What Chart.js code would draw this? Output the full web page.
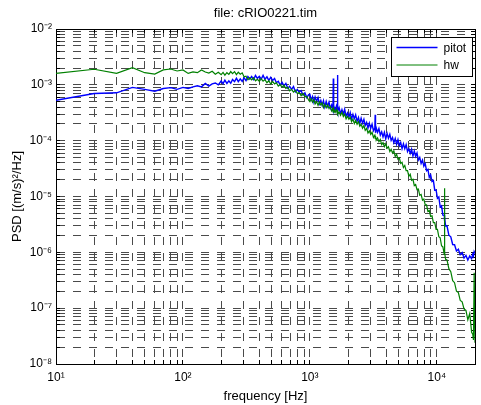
<!DOCTYPE html>
<html><head><meta charset="utf-8">
<script src="https://cdn.jsdelivr.net/npm/chart.js@4.4.1/dist/chart.umd.min.js"></script>
<style>html,body{margin:0;padding:0;background:#fff}canvas{display:block}</style>
</head><body>
<canvas id="c" width="481" height="405"></canvas>
<script>
const titleText = 'file: cRIO0221.tim';
const xTitle = 'frequency [Hz]';
const yTitle = 'PSD [(m/s)\u00B2/Hz]';
const seriesNames = ['pitot', 'hw'];
const seriesColors = ['#0000ff', '#008000'];
const xRange = [10, 20000];
const yRange = [1e-8, 1e-2];

const freq = [
10,20,30,40,50,60,70,80,90,100,
110,120,130,140,150,160,170,180,190,
200,207,214,222,230,238,246,255,264,273,
283,293,303,314,325,336,348,360,373,386,
400,414,428,443,459,475,492,509,527,545,
564,584,604,625,647,670,693,718,743,769,
796,824,853,883,914,946,979,
1000,1025,1050,1075,1100,1130,1160,1190,1220,1250,
1280,1310,1345,1380,1415,1450,1485,1520,1530,1540,
1580,1620,1640,1650,1660,1700,1745,1790,1835,1880,
1930,1980,2030,2080,2130,2185,2240,2295,2355,2415,
2475,2535,2600,2665,2730,2800,2870,2940,3015,3090,
3170,3250,3270,3290,3330,3415,3500,3590,3680,3770,
3865,3960,4060,4160,4265,4370,4480,4590,4705,4825,
4945,5070,5195,5325,5460,5595,5735,5880,6025,6175,
6330,6490,6650,6815,6985,7160,7340,7525,7715,7905,
8105,8305,8515,8725,8945,9170,9400,9635,9875,10120,
10375,10635,10900,11170,11450,11500,11550,11740,12030,
12450,12890,13340,13800,14290,14790,15300,15840,16390,16970,
17560,18180,18810,19200,19450,19700,20000
];

const pitot = [
5.3e-4,7.0e-4,7.2e-4,9.0e-4,8.3e-4,7.7e-4,8.6e-4,8.9e-4,8.3e-4,9.0e-4,
8.6e-4,9.2e-4,9.6e-4,9.2e-4,1.06e-3,9.5e-4,1.04e-3,1.08e-3,1.0e-3,
1.17e-3,1.05e-3,1.21e-3,1.06e-3,1.18e-3,1.07e-3,1.25e-3,1.14e-3,1.31e-3,1.14e-3,
1.28e-3,1.15e-3,1.34e-3,1.19e-3,1.40e-3,1.27e-3,1.41e-3,1.24e-3,1.47e-3,1.31e-3,
1.42e-3,1.27e-3,1.48e-3,1.26e-3,1.39e-3,1.20e-3,1.36e-3,1.20e-3,1.30e-3,1.09e-3,
1.16e-3,9.9e-4,1.11e-3,9.6e-4,1.06e-3,8.7e-4,9.4e-4,8.3e-4,9.3e-4,7.5e-4,
8.3e-4,7.4e-4,7.9e-4,6.6e-4,7.2e-4,5.9e-4,6.7e-4,
6.75e-4,5.36e-4,6.15e-4,4.89e-4,6.05e-4,5.04e-4,5.95e-4,4.54e-4,5.23e-4,4.28e-4,
5.18e-4,4.01e-4,5.04e-4,4.12e-4,4.88e-4,3.79e-4,4.35e-4,3.52e-4,1.3e-3,4.27e-4,
3.43e-4,4.19e-4,3.7e-4,1.5e-3,3.36e-4,3.92e-4,3.01e-4,3.61e-4,2.98e-4,3.65e-4,
2.74e-4,3.14e-4,2.65e-4,3.17e-4,2.43e-4,2.95e-4,2.48e-4,2.90e-4,2.22e-4,2.60e-4,
2.03e-4,2.53e-4,2.06e-4,2.42e-4,1.87e-4,2.12e-4,1.68e-4,2.06e-4,1.66e-4,1.97e-4,
1.51e-4,1.68e-4,2.9e-4,1.38e-4,1.71e-4,1.41e-4,1.65e-4,1.26e-4,1.44e-4,1.17e-4,
1.41e-4,1.08e-4,1.35e-4,1.11e-4,1.30e-4,1.01e-4,1.14e-4,9.2e-5,1.09e-4,8.6e-5,
1.05e-4,8.2e-5,9.3e-5,7.2e-5,8.8e-5,7.2e-5,8.5e-5,6.4e-5,7.2e-5,5.9e-5,
7.0e-5,5.3e-5,6.5e-5,5.2e-5,6.0e-5,4.5e-5,5.0e-5,3.9e-5,4.5e-5,3.5e-5,
3.9e-5,2.9e-5,3.06e-5,2.2e-5,2.45e-5,1.85e-5,1.93e-5,1.30e-5,1.31e-5,9.3e-6,
9.8e-6,6.5e-6,6.8e-6,4.65e-6,4.6e-6,3.6e-6,4.1e-6,2.96e-6,2.99e-6,
2.03e-6,1.90e-6,1.38e-6,1.37e-6,1.06e-6,1.14e-6,9.1e-7,9.9e-7,7.9e-7,8.8e-7,
7.3e-7,8.6e-7,7.7e-7,9.3e-7,8.6e-7,1.03e-6,9.6e-7
];

const hw = [
1.6e-3,1.9e-3,1.6e-3,2.03e-3,1.65e-3,1.56e-3,1.85e-3,1.92e-3,1.77e-3,1.85e-3,
1.6e-3,1.7e-3,1.65e-3,1.85e-3,1.7e-3,1.62e-3,1.75e-3,1.55e-3,1.68e-3,
1.52e-3,1.67e-3,1.49e-3,1.65e-3,1.54e-3,1.73e-3,1.59e-3,1.72e-3,1.52e-3,1.68e-3,
1.55e-3,1.64e-3,1.39e-3,1.43e-3,1.23e-3,1.34e-3,1.23e-3,1.34e-3,1.18e-3,1.26e-3,
1.16e-3,1.29e-3,1.16e-3,1.24e-3,1.09e-3,1.18e-3,1.03e-3,1.15e-3,1.04e-3,1.09e-3,
9.5e-4,1.01e-3,9.1e-4,9.8e-4,8.6e-4,9.1e-4,7.8e-4,8.3e-4,7.4e-4,8.0e-4,
7.0e-4,7.3e-4,6.4e-4,7.0e-4,6.1e-4,6.2e-4,5.3e-4,
4.99e-4,5.67e-4,4.88e-4,5.48e-4,4.54e-4,5.01e-4,4.29e-4,4.92e-4,4.37e-4,4.76e-4,
3.92e-4,4.48e-4,3.87e-4,4.39e-4,3.77e-4,4.09e-4,3.41e-4,3.79e-4,3.25e-4,3.76e-4,
3.20e-4,3.63e-4,3.13e-4,3.53e-4,2.98e-4,3.24e-4,2.84e-4,3.23e-4,2.70e-4,2.99e-4,
2.46e-4,2.74e-4,2.42e-4,2.64e-4,2.18e-4,2.43e-4,2.02e-4,2.30e-4,1.97e-4,2.19e-4,
1.82e-4,1.96e-4,1.67e-4,1.87e-4,1.53e-4,1.66e-4,1.37e-4,1.50e-4,1.29e-4,1.41e-4,
1.14e-4,1.26e-4,1.10e-4,1.22e-4,1.02e-4,1.12e-4,9.6e-5,1.05e-4,8.5e-5,9.2e-5,
7.8e-5,8.8e-5,7.3e-5,7.8e-5,6.4e-5,7.0e-5,6.0e-5,6.6e-5,5.2e-5,5.7e-5,
4.65e-5,4.9e-5,3.9e-5,4.1e-5,3.3e-5,3.6e-5,2.9e-5,2.9e-5,2.3e-5,2.5e-5,
1.96e-5,2.03e-5,1.57e-5,1.64e-5,1.33e-5,1.36e-5,1.05e-5,1.09e-5,8.6e-6,9.0e-6,
7.1e-6,7.1e-6,5.4e-6,5.6e-6,4.4e-6,4.5e-6,3.4e-6,3.4e-6,2.57e-6,2.58e-6,
1.9e-6,1.82e-6,1.31e-6,1.25e-6,9.2e-7,1.4e-5,9.8e-7,7.5e-7,7.3e-7,
5.1e-7,4.5e-7,3.1e-7,2.86e-7,2.02e-7,1.9e-7,1.38e-7,1.3e-7,9.7e-8,9.1e-8,
6.2e-8,8.0e-8,3.7e-8,3.4e-8,2.7e-8,4.3e-7,2.4e-8
];

const FONT = '"Liberation Sans", Arial, Helvetica, sans-serif';
Chart.defaults.font.family = FONT;
Chart.defaults.color = '#000';

const SUP = {'-':'\u207B','0':'\u2070','1':'\u00B9','2':'\u00B2','3':'\u00B3','4':'\u2074','5':'\u2075','6':'\u2076','7':'\u2077','8':'\u2078','9':'\u2079'};
function decadeLabel(v){
  const e = Math.log10(v), r = Math.round(e);
  if (Math.abs(e - r) > 1e-6) return '';
  return '10' + String(r).split('').map(c => SUP[c]).join('');
}
function logGrid(min, max){
  const t = [];
  for (let e = Math.floor(Math.log10(min)); e <= Math.ceil(Math.log10(max)); e++){
    for (let m = 1; m <= 9; m++){
      const v = parseFloat((m * Math.pow(10, e)).toPrecision(6));
      if (v >= min * 0.999999 && v <= max * 1.000001) t.push(v);
    }
  }
  return t;
}
function align(p){ return Math.round(p - 0.5) + 0.5; }

const gridStyle = { display: true, color: '#4a4a4a', lineWidth: 1, drawTicks: false };
const borderStyle = { display: true, color: '#000', width: 1, dash: [8, 8] };

const frame = {
  id: 'frame',
  beforeDatasetsDraw(chart){
    const {ctx, chartArea:{left, right, top, bottom}, scales:{x, y}} = chart;
    const L = 4;
    ctx.save();
    ctx.strokeStyle = '#000'; ctx.lineWidth = 1; ctx.setLineDash([]);
    ctx.beginPath();
    x.ticks.forEach(t => { const p = align(x.getPixelForValue(t.value));
      ctx.moveTo(p, bottom); ctx.lineTo(p, bottom - L); ctx.moveTo(p, top); ctx.lineTo(p, top + L); });
    y.ticks.forEach(t => { const p = align(y.getPixelForValue(t.value));
      ctx.moveTo(left, p); ctx.lineTo(left + L, p); ctx.moveTo(right, p); ctx.lineTo(right - L, p); });
    ctx.stroke();
    ctx.strokeRect(align(left), align(top), Math.round(right - left), Math.round(bottom - top));
    ctx.restore();
  }
};

const legendBox = {
  id: 'legendBox',
  afterDatasetsDraw(chart){
    const {ctx, chartArea} = chart;
    const bw = 81, bh = 39;
    const bx = align(chartArea.right - 3 - bw), by = align(chartArea.top + 8);
    ctx.save();
    ctx.setLineDash([]);
    ctx.fillStyle = '#fff'; ctx.fillRect(bx, by, bw, bh);
    ctx.strokeStyle = '#000'; ctx.lineWidth = 1; ctx.strokeRect(bx, by, bw, bh);
    ctx.font = '12px ' + FONT; ctx.textBaseline = 'middle'; ctx.textAlign = 'left';
    chart.data.datasets.forEach((ds, i) => {
      const yy = by + 10 + i * 17.5;
      ctx.strokeStyle = seriesColors[i];
      ctx.lineWidth = i === 0 ? 1.6 : 1;
      ctx.beginPath();
      ctx.moveTo(bx + 5, yy); ctx.lineTo(bx + 46, yy); ctx.stroke();
      ctx.fillStyle = '#000'; ctx.fillText(ds.label, bx + 52, Math.round(yy) + 1);
    });
    ctx.restore();
  }
};

new Chart(document.getElementById('c'), {
  type: 'line',
  data: {
    labels: freq,
    datasets: [
      { label: seriesNames[0], data: pitot, borderColor: seriesColors[0], backgroundColor: seriesColors[0],
        borderWidth: 1.4, pointRadius: 0, tension: 0, fill: false, order: 1, xAxisID: 'x', yAxisID: 'y' },
      { label: seriesNames[1], data: hw, borderColor: seriesColors[1], backgroundColor: seriesColors[1],
        borderWidth: 1.2, pointRadius: 0, tension: 0, fill: false, order: 0, xAxisID: 'x', yAxisID: 'y' }
    ]
  },
  options: {
    responsive: false, animation: false, devicePixelRatio: 1,
    layout: { padding: { left: 0, right: 1, top: 0, bottom: 0 } },
    plugins: { legend: { display: false }, title: { display: false }, tooltip: { enabled: false } },
    scales: {
      x: {
        type: 'logarithmic', position: 'bottom', min: xRange[0], max: xRange[1],
        afterBuildTicks: s => { s.ticks = logGrid(xRange[0], xRange[1]).map(v => ({value: v})); },
        afterFit: s => { s.height = 41; },
        grid: gridStyle, border: borderStyle,
        ticks: { autoSkip: false, maxRotation: 0, minRotation: 0, padding: 6, font: { size: 12 },
          callback: v => decadeLabel(v) },
        title: { display: true, text: xTitle, font: { size: 13 }, padding: { top: 0, bottom: 1 } }
      },
      x2: {
        type: 'logarithmic', position: 'top', min: xRange[0], max: xRange[1],
        afterFit: s => { s.height = 29; },
        grid: { display: false }, border: { display: false },
        ticks: { display: false },
        title: { display: true, text: titleText, font: { size: 13 }, padding: { top: 6, bottom: 0 } }
      },
      y: {
        type: 'logarithmic', position: 'left', min: yRange[0], max: yRange[1],
        afterBuildTicks: s => { s.ticks = logGrid(yRange[0], yRange[1]).map(v => ({value: v})); },
        afterFit: s => { s.width = 56; },
        grid: gridStyle, border: borderStyle,
        ticks: { autoSkip: false, padding: 4, font: { size: 12 }, callback: v => decadeLabel(v) },
        title: { display: true, text: yTitle, font: { size: 13 }, padding: { top: 10, bottom: 0 } }
      }
    }
  },
  plugins: [frame, legendBox]
});
</script>
</body></html>
